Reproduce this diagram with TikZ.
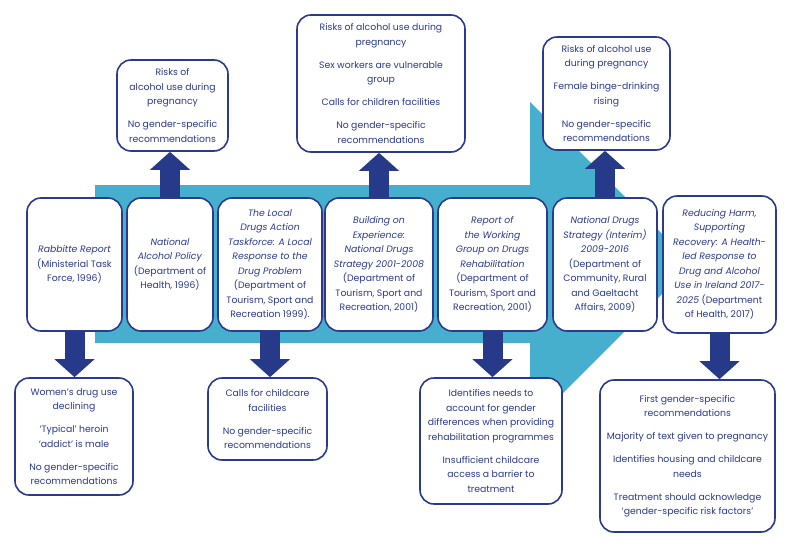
\documentclass[tikz,border=0pt]{standalone}
\usepackage{fontspec}
\setmainfont{Poppins}
\usetikzlibrary{arrows.meta}
\definecolor{navy}{HTML}{2B3A8C}
\definecolor{arrownavy}{HTML}{273989}
\definecolor{bandcyan}{HTML}{47AFCE}
\begin{document}
\begin{tikzpicture}[x=1pt,y=-1pt,
  box/.style={draw=navy, line width=1.6pt, rounded corners=14pt, fill=white, text=navy,
    align=center, inner sep=0pt, font=\fontsize{9.3}{14.5}\selectfont},
  bigarrow/.style={line width=20pt, draw=arrownavy, -{Triangle[width=39pt,length=18pt]}}]
\useasboundingbox (0,0) rectangle (800,554);
\fill[bandcyan] (95,185) -- (530,185) -- (530,102) -- (692,264) -- (530,426) -- (530,343) -- (95,343) -- cycle;

% middle row
\node[box, minimum width=95pt, minimum height=133pt] (m1) at (74.5,264.5)
  {\textit{Rabbitte Report}\\(Ministerial Task\\Force, 1996)};
\node[box, minimum width=86pt, minimum height=133pt] (m2) at (170,264.5)
  {\textit{National}\\\textit{Alcohol Policy}\\(Department of\\Health, 1996)};
\node[box, minimum width=104pt, minimum height=133pt] (m3) at (270,264.5)
  {\textit{The Local}\\\textit{Drugs Action}\\\textit{Taskforce: A Local}\\\textit{Response to the}\\\textit{Drug Problem}\\(Department of\\Tourism, Sport and\\Recreation 1999).};
\node[box, minimum width=108pt, minimum height=133pt] (m4) at (379,264.5)
  {\textit{Building on}\\\textit{Experience:}\\\textit{National Drugs}\\\textit{Strategy 2001-2008}\\(Department of\\Tourism, Sport and\\Recreation, 2001)};
\node[box, minimum width=109pt, minimum height=133pt] (m5) at (492.5,264.5)
  {\textit{Report of}\\\textit{the Working}\\\textit{Group on Drugs}\\\textit{Rehabilitation}\\(Department of\\Tourism, Sport and\\Recreation, 2001)};
\node[box, minimum width=104pt, minimum height=133pt] (m6) at (605,264.5)
  {\textit{National Drugs}\\\textit{Strategy (Interim)}\\\textit{2009-2016}\\(Department of\\Community, Rural\\and Gaeltacht\\Affairs, 2009)};
\node[box, minimum width=113pt, minimum height=137pt] (m7) at (719.5,264.5)
  {\textit{Reducing Harm,}\\\textit{Supporting}\\\textit{Recovery: A Health-}\\\textit{led Response to}\\\textit{Drug and Alcohol}\\\textit{Use in Ireland 2017-}\\\textit{2025} (Department\\of Health, 2017)};

% top row
\node[box, minimum width=111pt, minimum height=91pt] (t1) at (172.5,105.5)
  {Risks of\\alcohol use during\\pregnancy\\[8.5pt]No gender-specific\\recommendations};
\node[box, minimum width=168pt, minimum height=137pt] (t2) at (381,83.5)
  {Risks of alcohol use during\\pregnancy\\[8.5pt]Sex workers are vulnerable\\group\\[8.5pt]Calls for children facilities\\[8.5pt]No gender-specific\\recommendations};
\node[box, minimum width=127pt, minimum height=113pt] (t3) at (606.5,93.5)
  {Risks of alcohol use\\during pregnancy\\[8.5pt]Female binge-drinking\\rising\\[8.5pt]No gender-specific\\recommendations};

% bottom row
\node[box, minimum width=118pt, minimum height=117pt] (b1) at (74,436.5)
  {Women’s drug use\\declining\\[8.5pt]‘Typical’ heroin\\‘addict’ is male\\[8.5pt]No gender-specific\\recommendations};
\node[box, minimum width=119pt, minimum height=82pt] (b2) at (267.5,419)
  {Calls for childcare\\facilities\\[8.5pt]No gender-specific\\recommendations};
\node[box, minimum width=142pt, minimum height=126pt] (b3) at (491,441)
  {Identifies needs to\\account for gender\\differences when providing\\rehabilitation programmes\\[8.5pt]Insufficient childcare\\access a barrier to\\treatment};
\node[box, minimum width=175pt, minimum height=152pt] (b4) at (687.5,456)
  {First gender-specific\\recommendations\\[8.5pt]Majority of text given to pregnancy\\[8.5pt]Identifies housing and childcare\\needs\\[8.5pt]Treatment should acknowledge\\‘gender-specific risk factors’};

% thick arrows
\draw[bigarrow] (m2.north) -- (m2.north |- t1.south);
\draw[bigarrow] (m4.north) -- (m4.north |- t2.south);
\draw[bigarrow] (m6.north) -- (m6.north |- t3.south);
\draw[bigarrow] (m1.south) -- (m1.south |- b1.north);
\draw[bigarrow] (m3.south) -- (m3.south |- b2.north);
\draw[bigarrow] (m5.south) -- (m5.south |- b3.north);
\draw[bigarrow] (m7.south) -- (m7.south |- b4.north);
\end{tikzpicture}
\end{document}
